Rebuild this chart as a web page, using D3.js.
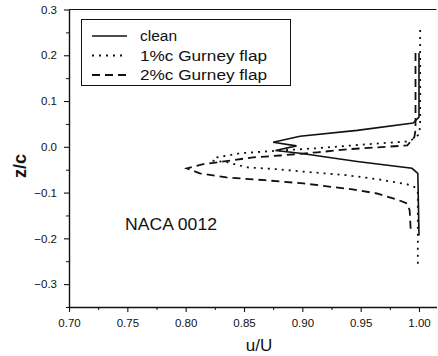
<!DOCTYPE html>
<html>
<head>
<meta charset="utf-8">
<script src="https://cdn.jsdelivr.net/npm/d3@7"></script>
<style>
  html, body { margin: 0; padding: 0; background: #fff; }
  svg { display: block; font-family: "Liberation Sans", Arial, Helvetica, sans-serif; }
</style>
</head>
<body>
<svg id="chart" width="438" height="356"></svg>
<script>
// Wake velocity profiles behind a NACA 0012 section (u/U against z/c)
const cleanU = [1.000, 1.000, 0.995, 0.947, 0.898, 0.875, 0.895, 0.877, 0.898, 0.947, 0.994, 0.999, 1.000];
const cleanZ = [0.205, 0.065, 0.052, 0.036, 0.023, 0.010, 0.002, -0.008, -0.014, -0.032, -0.047, -0.058, -0.194];

const gurney1U = [1.001, 1.001, 1.000, 0.992, 0.958, 0.913, 0.881, 0.847, 0.827, 0.823, 0.836, 0.853, 0.879, 0.900, 0.938, 0.965, 0.990, 0.997, 0.999, 0.999];
const gurney1Z = [0.255, 0.047, 0.027, 0.012, 0.006, -0.003, -0.008, -0.014, -0.023, -0.030, -0.034, -0.045, -0.049, -0.054, -0.062, -0.071, -0.082, -0.089, -0.100, -0.264];

const gurney2U = [0.997, 0.997, 0.996, 0.990, 0.941, 0.913, 0.881, 0.858, 0.838, 0.815, 0.801, 0.812, 0.835, 0.868, 0.901, 0.943, 0.964, 0.981, 0.990, 0.992, 0.993];
const gurney2Z = [0.205, 0.036, 0.021, 0.003, -0.005, -0.012, -0.019, -0.023, -0.030, -0.038, -0.047, -0.058, -0.067, -0.073, -0.080, -0.093, -0.102, -0.115, -0.124, -0.139, -0.187];

const seriesNames = ["clean", "1%c Gurney flap", "2%c Gurney flap"];

const xMajor = [0.70, 0.75, 0.80, 0.85, 0.90, 0.95, 1.00];
const xMinor = [0.725, 0.775, 0.825, 0.875, 0.925, 0.975];
const yMajor = [0.3, 0.2, 0.1, 0.0, -0.1, -0.2, -0.3];
const yMinor = [0.25, 0.15, 0.05, -0.05, -0.15, -0.25, -0.35];

const svg = d3.select("#chart");

const x = d3.scaleLinear().domain([0.70, 1.015]).range([69, 436.5]);
const y = d3.scaleLinear().domain([-0.35, 0.30]).range([307, 9.5]);

const ink = "#111";

// frame: top edge
svg.append("line")
  .attr("x1", x(0.70)).attr("x2", x(1.015))
  .attr("y1", y(0.30)).attr("y2", y(0.30))
  .attr("stroke", ink).attr("stroke-width", 1.2);

function styleAxis(g) {
  g.select(".domain").attr("stroke", ink).attr("stroke-width", 1.4);
  g.selectAll(".tick line").attr("stroke", ink).attr("stroke-width", 1.1);
  g.selectAll(".tick text").attr("fill", ink).style("font-size", "11.5px");
}

// bottom axis
const xAxisG = svg.append("g").attr("transform", `translate(0,${y(-0.35)})`)
  .call(d3.axisBottom(x).tickValues(xMajor).tickFormat(d3.format(".2f"))
    .tickSize(5).tickSizeOuter(0).tickPadding(7));
styleAxis(xAxisG);

const xMinorG = svg.append("g").attr("transform", `translate(0,${y(-0.35)})`)
  .call(d3.axisBottom(x).tickValues(xMinor).tickFormat("").tickSize(3).tickSizeOuter(0));
xMinorG.select(".domain").remove();
xMinorG.selectAll(".tick line").attr("stroke", ink);

// left axis
const yAxisG = svg.append("g").attr("transform", `translate(${x(0.70)},0)`)
  .call(d3.axisLeft(y).tickValues(yMajor).tickFormat(d3.format(".1f"))
    .tickSize(5).tickSizeOuter(0).tickPadding(7));
styleAxis(yAxisG);

const yMinorG = svg.append("g").attr("transform", `translate(${x(0.70)},0)`)
  .call(d3.axisLeft(y).tickValues(yMinor).tickFormat("").tickSize(3).tickSizeOuter(0));
yMinorG.select(".domain").remove();
yMinorG.selectAll(".tick line").attr("stroke", ink);

svg.selectAll("g text").attr("font-family", null);

// axis titles
svg.append("text")
  .attr("x", 259).attr("y", 351)
  .attr("text-anchor", "middle")
  .style("font-size", "17px").attr("fill", ink)
  .text("u/U");

svg.append("text")
  .attr("transform", "translate(26,166) rotate(-90)")
  .attr("text-anchor", "middle")
  .style("font-size", "18px").style("font-weight", "600").attr("fill", ink)
  .text("z/c");

// profiles
const dashes = [null, "2,5", "8,5"];
const profiles = [
  { u: cleanU, z: cleanZ },
  { u: gurney1U, z: gurney1Z },
  { u: gurney2U, z: gurney2Z }
];
const line = d3.line().x(d => x(d[0])).y(d => y(d[1]));

profiles.forEach((p, i) => {
  svg.append("path")
    .datum(p.u.map((u, k) => [u, p.z[k]]))
    .attr("d", line)
    .attr("fill", "none")
    .attr("stroke", ink)
    .attr("stroke-width", i === 0 ? 1.6 : 1.8)
    .attr("stroke-dasharray", dashes[i]);
});

// legend
const legend = svg.append("g");
legend.append("rect")
  .attr("x", 81.5).attr("y", 19.5).attr("width", 209).attr("height", 66)
  .attr("fill", "#fff").attr("stroke", ink).attr("stroke-width", 1);

const rowY = [36, 55.5, 75];
const textWidths = [37, 127, 127];
seriesNames.forEach((name, i) => {
  legend.append("line")
    .attr("x1", 92).attr("x2", 127)
    .attr("y1", rowY[i]).attr("y2", rowY[i])
    .attr("stroke", ink).attr("stroke-width", i === 0 ? 1.4 : 1.8)
    .attr("stroke-dasharray", dashes[i]);
  legend.append("text")
    .attr("x", 140).attr("y", rowY[i]).attr("dy", "0.35em")
    .attr("textLength", textWidths[i]).attr("lengthAdjust", "spacingAndGlyphs")
    .style("font-size", "15.5px").attr("fill", ink)
    .text(name);
});

// airfoil annotation
svg.append("text")
  .attr("x", 125).attr("y", 230)
  .attr("textLength", 92).attr("lengthAdjust", "spacingAndGlyphs")
  .style("font-size", "16.5px").attr("fill", ink)
  .text("NACA 0012");
</script>
</body>
</html>
